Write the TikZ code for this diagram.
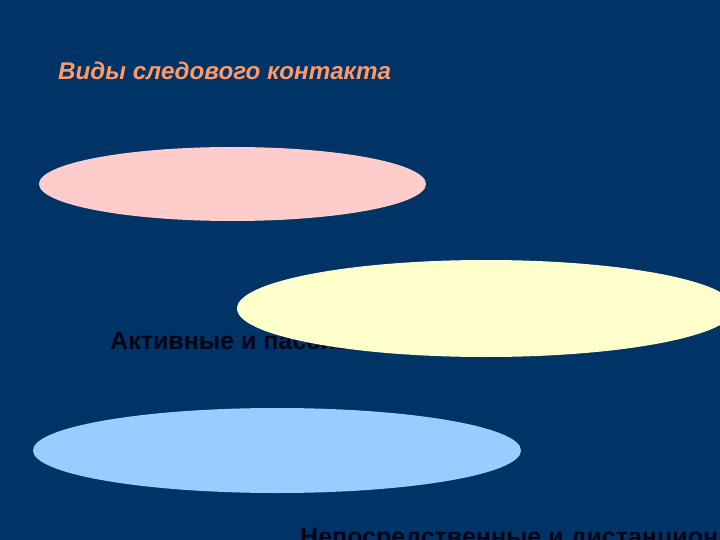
\documentclass[tikz,border=0pt]{standalone}
\usepackage{fontspec}
\setmainfont{Liberation Sans}
\definecolor{bg}{HTML}{003366}
\definecolor{titlec}{HTML}{FF9966}
\definecolor{pinkc}{HTML}{FFCCCC}
\definecolor{yellowc}{HTML}{FFFFCC}
\definecolor{bluec}{HTML}{99CCFF}
\definecolor{txtc}{HTML}{050518}
\begin{document}
\begin{tikzpicture}[x=1pt,y=-1pt,
  lbl/.style={anchor=base west,inner sep=0pt,text=txtc,font=\fontsize{25}{30}\selectfont\bfseries}]
\useasboundingbox (0,0) rectangle (720,540);
\clip (0,0) rectangle (720,540);
\fill[bg] (0,0) rectangle (720,540);
\node[anchor=base west,inner sep=0pt,text=titlec,font=\fontsize{24.2}{29}\selectfont\bfseries\itshape] (title) at (58,80) {Виды следового контакта};
\fill[pinkc] (232.5,184) ellipse [x radius=193.5, y radius=37];
\node[lbl] (active) at (110,349) {Активные и пассивные};
\fill[yellowc] (486,308.5) ellipse [x radius=249, y radius=48.5];
\fill[bluec] (277,450.5) ellipse [x radius=244, y radius=42.5];
\node[lbl] (direct) at (300,545) {Непосредственные и дистанционные};
\end{tikzpicture}
\end{document}
